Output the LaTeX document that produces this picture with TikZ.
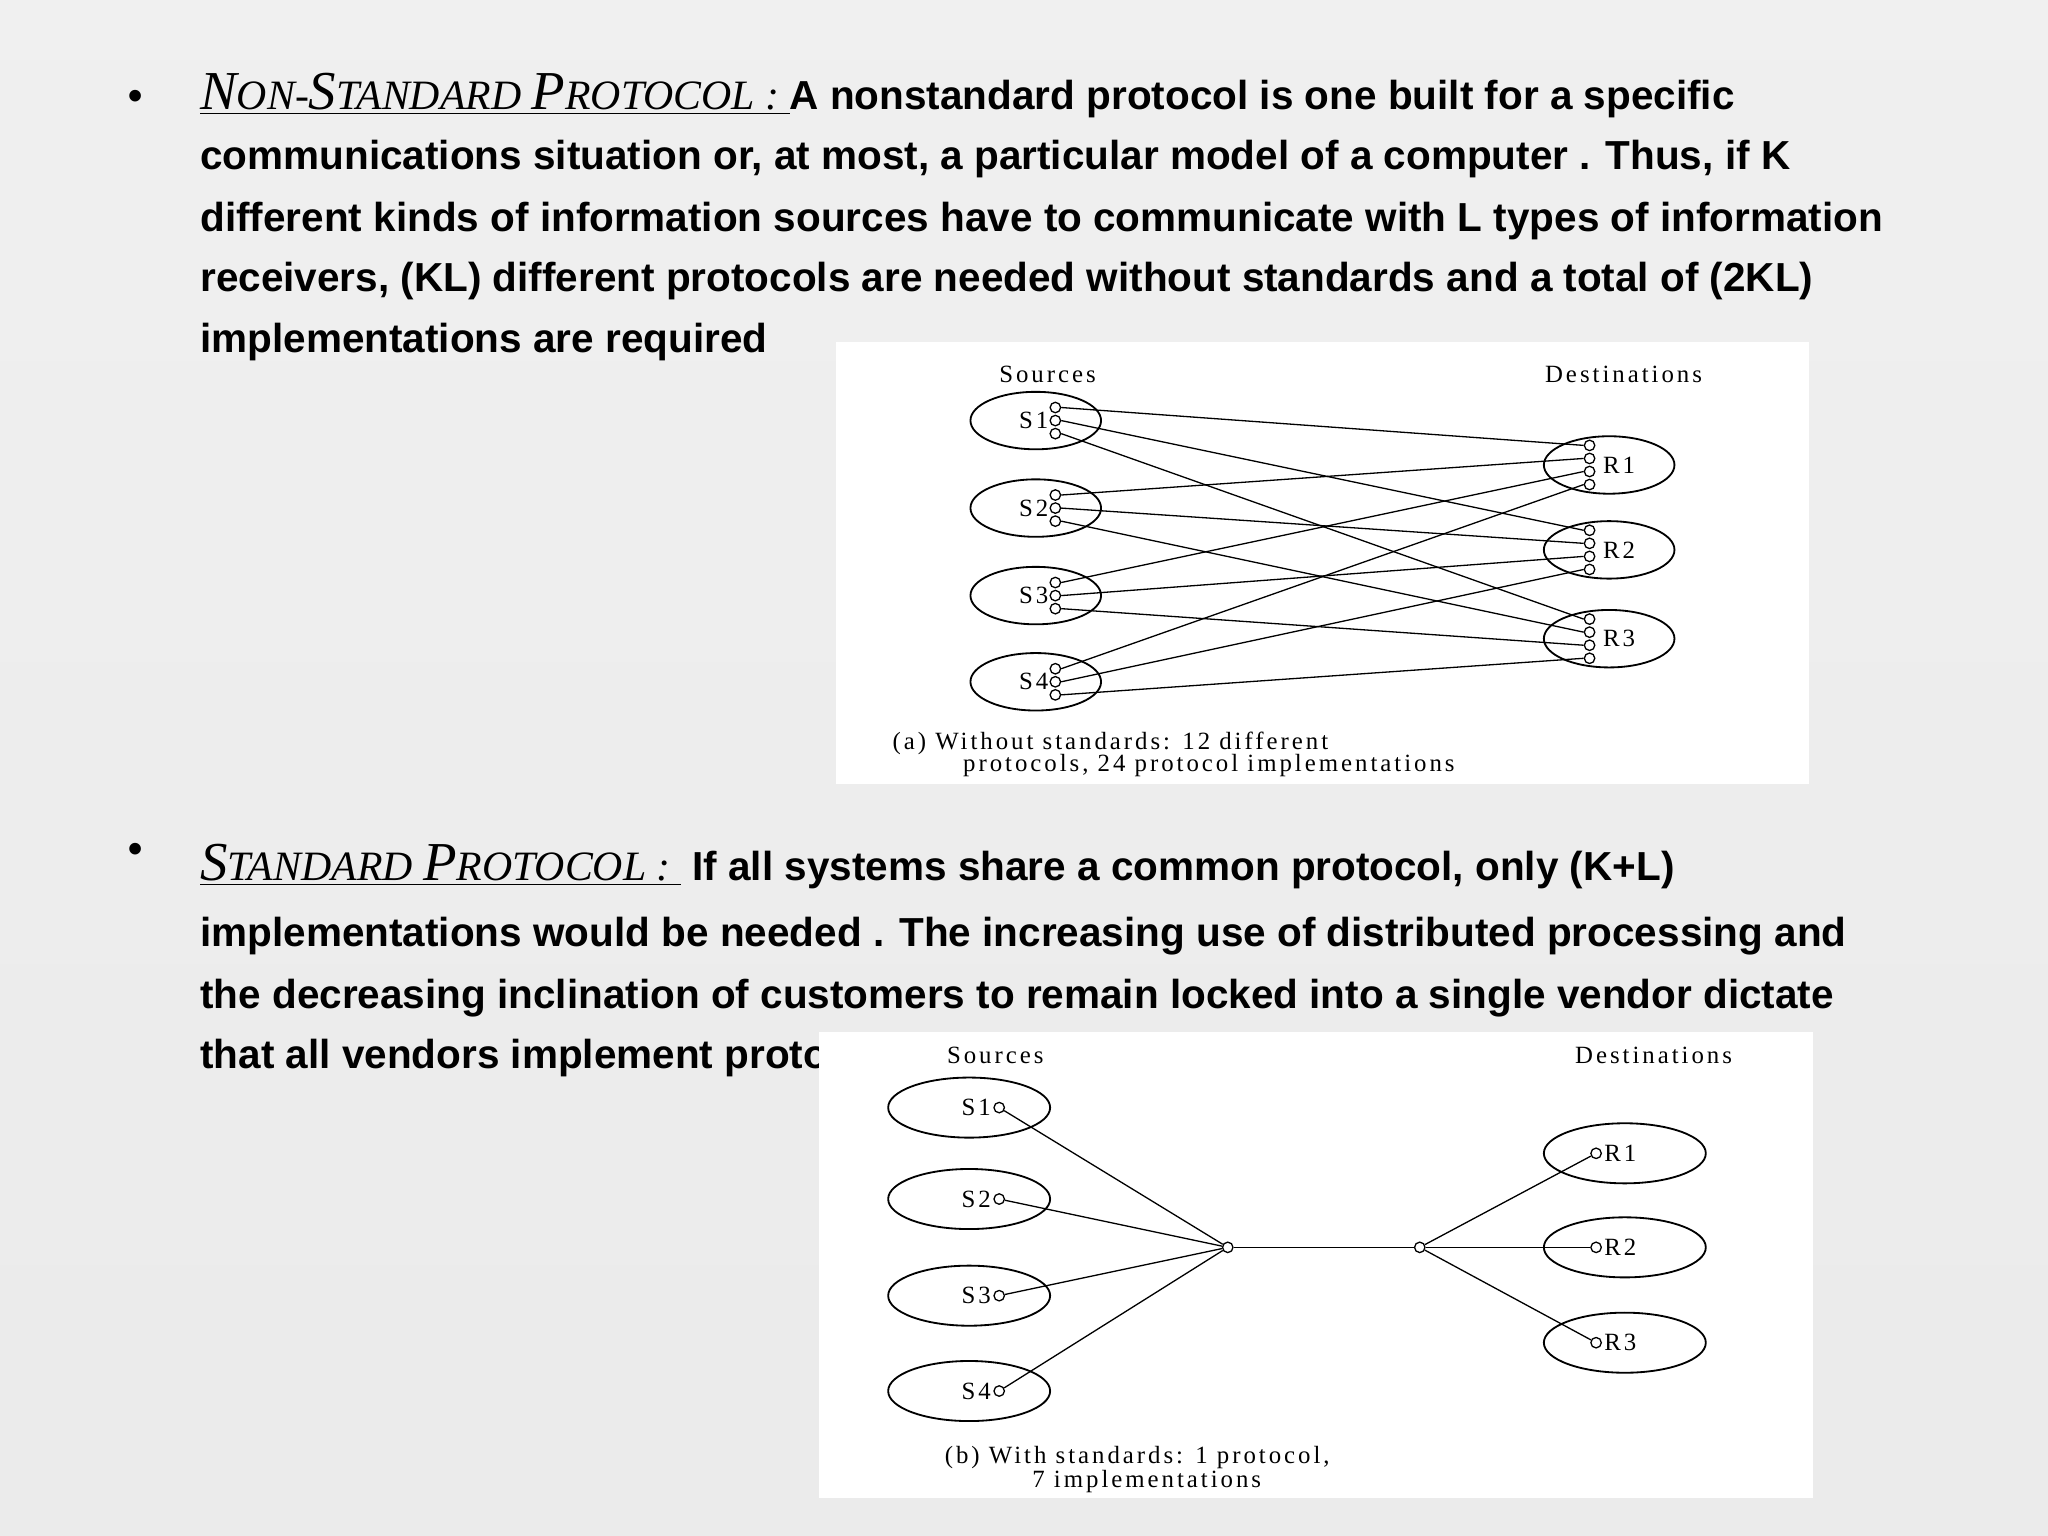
\documentclass[tikz,border=0pt]{standalone}
\usepackage{fontspec}
\usetikzlibrary{shapes.geometric}
\setmainfont{Liberation Sans}
\newfontfamily\dfont[LetterSpace=12]{Liberation Serif}
\newfontfamily\hfont{Liberation Serif}
\begin{document}
\begin{tikzpicture}[x=0.5pt,y=-0.5pt,
  body/.style={anchor=base west,inner sep=0pt,font=\bfseries\fontsize{15.5}{20}\selectfont},
  lbl/.style={inner sep=0pt,font=\dfont\fontsize{9.5}{10}\selectfont},
  sell/.style={draw,ellipse,minimum width=50pt,minimum height=22pt,inner sep=0pt,line width=0.7pt},
  bell/.style={draw,ellipse,minimum width=62pt,minimum height=23pt,inner sep=0pt,line width=0.7pt},
  pc/.style={draw,circle,minimum size=4pt,inner sep=0pt,fill=white,line width=0.5pt},
  ln/.style={line width=0.5pt}]
\shade[top color=gray!12,middle color=white,bottom color=gray!16] (0,0) rectangle (1568,1176);
\useasboundingbox (0,0) rectangle (1568,1176);
% bullets
\node[body] (b1) at (98,84) {•};
\node[body] (b2) at (98,660) {•};
\newcommand{\hd}[1]{{\hfont\itshape\mdseries\fontsize{21}{20}\selectfont #1}}
\newcommand{\hs}[1]{{\hfont\itshape\mdseries\fontsize{16}{20}\selectfont #1}}
\node[body] (t1) at (153,84) {\underline{\hd{N}\hs{ON-}\hd{S}\hs{TANDARD }\hd{P}\hs{ROTOCOL : }}A nonstandard protocol is one built for a specific};
\node[body] (t2) at (153,130) {communications situation or, at most, a particular model of a computer . Thus, if K};
\node[body] (t3) at (153,177) {different kinds of information sources have to communicate with L types of information};
\node[body] (t4) at (153,223) {receivers, (KL) different protocols are needed without standards and a total of (2KL)};
\node[body] (t5) at (153,270) {implementations are required};
\node[body] (u1) at (153,674) {\underline{\hd{S}\hs{TANDARD }\hd{P}\hs{ROTOCOL : }}\ If all systems share a common protocol, only (K+L)};
\node[body] (u2) at (153,725) {implementations would be needed . The increasing use of distributed processing and};
\node[body] (u3) at (153,772) {the decreasing inclination of customers to remain locked into a single vendor dictate};
\node[body] (u4) at (153,818) {that all vendors implement protocols};
% diagram a
\fill[white] (640,262) rectangle (1385,600);
\node[lbl] (srcA) at (802,287) {Sources};
\node[lbl] (dstA) at (1243,287) {Destinations};
\foreach \i/\y in {1/322,2/389,3/456,4/522}{
  \node[sell] (S\i) at (793,\y) {};
  \node[lbl,anchor=east] (Sl\i) at (803,\y) {S\i};
  \foreach \j/\o in {1/-10,2/0,3/10}{\node[pc] (s\i c\j) at (808,\y+\o) {};}
}
\foreach \j/\y in {1/356,2/421,3/489}{
  \node[sell] (R\j) at (1232,\y) {};
  \node[lbl,anchor=west] (Rl\j) at (1227,\y) {R\j};
  \foreach \i/\o in {1/-15,2/-5,3/5,4/15}{\node[pc] (r\j c\i) at (1217,\y+\o) {};}
}
\foreach \i in {1,...,4}{\foreach \j in {1,2,3}{\draw[ln] (s\i c\j.east) -- (r\j c\i.west);}}
\node[lbl,anchor=west] (capA1) at (683,569) {(a) Without standards: 12 different};
\node[lbl,anchor=west] (capA2) at (737,586) {protocols, 24 protocol implementations};
% diagram b
\fill[white] (627,790) rectangle (1388,1147);
\node[lbl] (srcB) at (762,808) {Sources};
\node[lbl] (dstB) at (1266,808) {Destinations};
\node[pc] (hl) at (940,955) {};
\node[pc] (hr) at (1087,955) {};
\draw[ln] (hl) -- (hr);
\foreach \i/\y in {1/848,2/918,3/992,4/1065}{
  \node[bell] (B\i) at (742,\y) {};
  \node[lbl,anchor=east] (Bl\i) at (759,\y) {S\i};
  \node[pc] (bs\i) at (765,\y) {};
  \draw[ln] (bs\i) -- (hl);
}
\foreach \j/\y in {1/883,2/955,3/1028}{
  \node[bell] (C\j) at (1244,\y) {};
  \node[lbl,anchor=west] (Cl\j) at (1228,\y) {R\j};
  \node[pc] (br\j) at (1222,\y) {};
  \draw[ln] (hr) -- (br\j);
}
\node[lbl,anchor=west] (capB1) at (723,1116) {(b) With standards: 1 protocol,};
\node[lbl,anchor=west] (capB2) at (790,1134) {7 implementations};
\end{tikzpicture}
\end{document}
